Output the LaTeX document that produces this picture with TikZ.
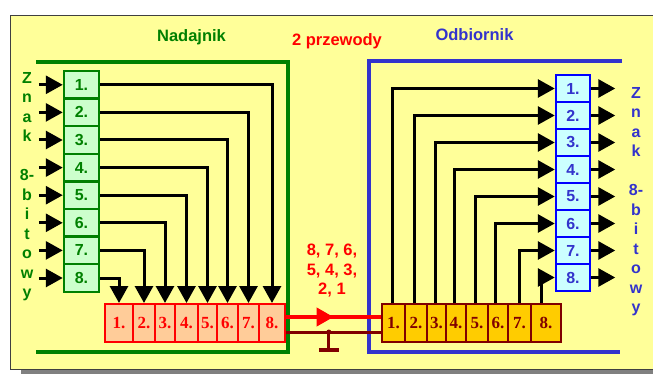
\documentclass[tikz,border=0pt]{standalone}
\usepackage{fontspec}
\setmainfont{Liberation Sans}
\newfontfamily\numfont{Liberation Serif}
\usepackage{tikz}
\usetikzlibrary{arrows.meta,calc}
\definecolor{ngreen}{HTML}{008000}
\definecolor{oblue}{HTML}{3333CC}
\definecolor{maroon}{HTML}{800000}
\definecolor{paper}{HTML}{FFFF99}
\definecolor{mint}{HTML}{CCFFCC}
\definecolor{ice}{HTML}{CCFFFF}
\definecolor{salmon}{HTML}{FFCC99}
\definecolor{gold}{HTML}{FFCC00}

\begin{document}
\begin{tikzpicture}[x=1pt,y=-1pt,>={Triangle[length=17pt,width=18pt]},
	wire/.style={line width=3pt},
	big/.style={font=\bfseries\fontsize{16.5}{19.5}\selectfont},
	letters/.style={align=center,inner sep=0pt,font=\bfseries\fontsize{16}{19.5}\selectfont},
	incell/.style={draw=ngreen,fill=mint,line width=2.5pt,minimum width=35pt,minimum height=27.6pt,inner sep=0pt,text=ngreen,font=\bfseries\fontsize{16}{16}\selectfont},
	outcell/.style={draw=blue,fill=ice,line width=2.5pt,minimum width=34pt,minimum height=27pt,inner sep=0pt,text=oblue,font=\bfseries\fontsize{16}{16}\selectfont},
	shcell/.style={draw=red,fill=salmon,line width=2pt,minimum height=38pt,inner sep=0pt,text=red,font=\numfont\bfseries\fontsize{17}{17}\selectfont},
	rscell/.style={draw=maroon,fill=gold,line width=1.6pt,minimum height=38pt,inner sep=0pt,text=maroon,font=\numfont\bfseries\fontsize{17}{17}\selectfont}]
	%\draw[help lines] (0,0) grid (653,374);
	\useasboundingbox (0,0) rectangle (653,374);
	\clip (0,0) rectangle (653,374);
	\fill[gray] (21,20) rectangle (670,374);
	\filldraw[fill=paper,draw=black!75,line width=1pt] (10.5,15.5) rectangle (670,369);

	\node[big,text=ngreen,anchor=base] (tx) at (191.5,42) {Nadajnik};
	\node[big,text=red,anchor=base] (pair) at (337,46) {2 przewody};
	\node[big,text=oblue,anchor=base] (rx) at (474.5,41) {Odbiornik};

	\draw[ngreen,line width=4pt] (36,62) -| (288,352) -- (36,352);
	\draw[oblue,line width=4pt] (622,61) -| (369,352) -- (620,352);

	% nadajnik
	\foreach \i in {1,...,8} {
		\node[incell] (in\i) at (81.5,{71+27.6*(\i-0.5)}) {\i.};
		\draw[wire,->] ([xshift=-24pt]in\i.west) -- (in\i.west);
	}
	\foreach \i/\a/\b in {1/105/133,2/133/155,3/155/175,4/175/198,5/198/217,6/217/238,7/238/259,8/259/285}
		\node[shcell,minimum width={(\b-\a)*1pt}] (sh\i) at ({(\a+\b)/2},323) {\i.};
	\foreach \i [evaluate=\i as \j using int(9-\i)] in {1,...,8}
		\draw[wire,->] (in\i.east) -| (sh\j.north);
	\node[letters,text=ngreen,anchor=north] (sigL) at (27,72) {Z\\n\\a\\k\\[19.5pt]8-\\b\\i\\t\\o\\w\\y};

	% odbiornik
	\foreach \i/\a/\b in {1/382/405,2/405/427,3/427/446,4/446/466,5/466/488,6/488/508,7/508/531,8/531/561}
		\node[rscell,minimum width={(\b-\a)*1pt}] (rs\i) at ({(\a+\b)/2},323) {\i.};
	\foreach \i/\dx in {1/-1.5,2/-2,3/-1.5,4/-2,5/-2,6/-3,7/-0.5,8/-5} {
		\node[outcell] (out\i) at (573,{75+27*(\i-0.5)}) {\i.};
		\draw[wire,->] (out\i.east) -- ([xshift=24pt]out\i.east);
		\draw[wire,->] ([xshift=\dx pt]rs\i.north) |- (out\i.west);
	}
	\node[letters,text=oblue,anchor=north] (sigR) at (636,87) {Z\\n\\a\\k\\[19.5pt]8-\\b\\i\\t\\o\\w\\y};

	% dwa przewody
	\draw[red,line width=4pt] ([yshift=6pt]sh8.east) -- ([yshift=6pt]rs1.west);
	\draw[red,line width=4pt,->] ([yshift=6pt]sh8.east) -- ($([yshift=6pt]sh8.east)!0.5!([yshift=6pt]rs1.west)$);
	\draw[maroon,line width=3pt] ([yshift=-9pt]sh8.east) -- ([yshift=-9pt]rs1.west);
	\coordinate (gnd) at ($([yshift=-9pt]sh8.east)!0.45!([yshift=-9pt]rs1.west)$);
	\draw[maroon,line width=3pt] (gnd) -- ++(0,18);
	\draw[maroon,line width=4pt] ([xshift=-10pt,yshift=-18pt]gnd) -- ([xshift=10pt,yshift=-18pt]gnd);
	\fill[maroon] (gnd) circle (2.5pt);
	\node[big,text=red,align=center] (seq) at (332,271) {8, 7, 6,\\5, 4, 3,\\2, 1};
\end{tikzpicture}
\end{document}
